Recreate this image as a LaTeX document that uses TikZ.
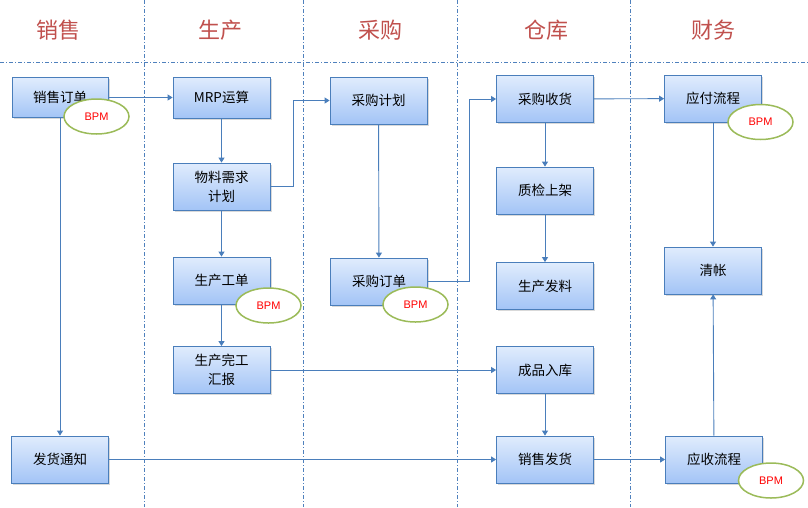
\documentclass[tikz,border=0pt]{standalone}
\usepackage{fontspec}
\setmainfont{Noto Sans CJK SC}
\newfontfamily\bpmfont{Liberation Sans}
\usetikzlibrary{shapes,arrows.meta,positioning,shadows}

\definecolor{laneblue}{RGB}{79,129,189}
\definecolor{lineblue}{RGB}{74,126,187}
\definecolor{boxtop}{RGB}{224,236,253}
\definecolor{boxbot}{RGB}{163,196,246}
\definecolor{headred}{RGB}{192,80,77}
\definecolor{bpmgreen}{RGB}{155,187,89}

\tikzset{
  lane/.style={laneblue, line width=0.6pt, dash pattern=on 4pt off 2pt on 1pt off 2pt},
  head/.style={headred, font=\fontsize{22}{24}\selectfont},
  box/.style={draw=lineblue, line width=0.8pt, top color=boxtop, bottom color=boxbot,
    minimum width=97pt, minimum height=47pt, inner sep=0pt, align=center,
    font=\fontsize{13.5}{19}\selectfont,
    drop shadow={shadow xshift=1.5pt, shadow yshift=-1.5pt, opacity=0.3}},
  flow/.style={lineblue, line width=0.9pt, -{Triangle[width=6pt,length=5pt]}},
  bpm/.style={ellipse, draw=bpmgreen, line width=1.5pt, fill=white,
    minimum width=65pt, minimum height=35pt, inner sep=0pt, text=red,
    font=\bpmfont\fontsize{11}{12}\selectfont}
}

\begin{document}
\begin{tikzpicture}[x=1pt, y=-1pt]
    \useasboundingbox (0,0) rectangle (808,507);

    % lanes
    \draw [lane] (0,62) -- (808,62);
    \foreach \x in {144,303,457,630}
        \draw [lane] (\x,0) -- (\x,507);

    \foreach \x/\t [count=\i] in {58/销售,220/生产,380/采购,546/仓库,713/财务}
        \node [head] (head\i) at (\x,30) {\t};

    % boxes
    \node [box, minimum width=96pt, minimum height=40pt] (so) at (60,97.5) {销售订单};
    \node [box] (fh) at (60,459.5) {发货通知};

    \node [box, minimum height=41pt] (mrp) at (221.5,97.5) {MRP运算};
    \node [box] (wl) at (221.5,186.5) {物料需求\\计划};
    \node [box] (gd) at (221.5,280.5) {生产工单};
    \node [box] (wg) at (221.5,370) {生产完工\\汇报};

    \node [box] (cj) at (378.5,100.5) {采购计划};
    \node [box] (cd) at (379,281.5) {采购订单};

    \node [box] (sh) at (545,99) {采购收货};
    \node [box] (zj) at (545,190.5) {质检上架};
    \node [box] (fl) at (545,286) {生产发料};
    \node [box] (rk) at (545,370) {成品入库};
    \node [box] (xf) at (545,459.5) {销售发货};

    \node [box] (yf) at (713,98.5) {应付流程};
    \node [box] (qz) at (713,270.5) {清帐};
    \node [box] (ys) at (714,459.5) {应收流程};

    % flows
    \draw [flow] (so) -- (mrp);
    \draw [flow] (so) -- (fh);
    \draw [flow] (mrp) -- (wl);
    \draw [flow] (wl) -- (gd);
    \draw [flow] (gd) -- (wg);
    \draw [flow] (wl.east) -- ++(23,0) |- (cj.west);
    \draw [flow] (wg.east) -- (rk.west);
    \draw [flow] (cj) -- (cd);
    \draw [flow] (cd.east) -- ++(42,0) |- (sh.west);
    \draw [flow] (sh) -- (yf);
    \draw [flow] (sh) -- (zj);
    \draw [flow] (zj) -- (fl);
    \draw [flow] (rk) -- (xf);
    \draw [flow] (fh) -- (xf);
    \draw [flow] (xf) -- (ys);
    \draw [flow] (yf) -- (qz);
    \draw [flow] (ys) -- (qz);

    % BPM marks
    \node [bpm] (bpm1) at (96.5,116.5) {BPM};
    \node [bpm] (bpm2) at (268.5,305.5) {BPM};
    \node [bpm] (bpm3) at (415.5,304.5) {BPM};
    \node [bpm] (bpm4) at (760.5,122) {BPM};
    \node [bpm] (bpm5) at (771,480.5) {BPM};
\end{tikzpicture}
\end{document}
